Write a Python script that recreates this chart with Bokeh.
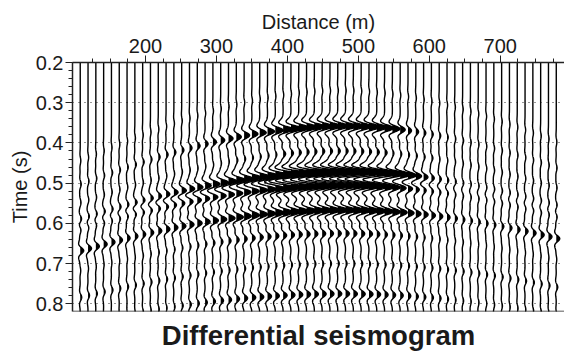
import numpy as np
from bokeh.plotting import figure
from bokeh.models import Range1d, FixedTicker, PrintfTickFormatter, Span, Title
from bokeh.embed import file_html
from bokeh.resources import INLINE

# ---------------- data ----------------
offsets = list(range(108, 790, 11))          # trace positions (m), 62 traces
x_major = [200, 300, 400, 500, 600, 700]
x_minor = list(range(125, 790, 25))
y_major = [0.2, 0.3, 0.4, 0.5, 0.6, 0.7, 0.8]
y_minor = [round(0.2 + 0.02 * k, 2) for k in range(31)]

apex_offset = 475.0      # m, centre of the anomaly
moveout_v = 1040.0       # m/s, hyperbolic moveout
event_t0 = [0.358, 0.472, 0.505, 0.567, 0.625, 0.775, 0.27, 0.42, 0.70]

amp_e1 = [0.10, 0.10, 0.10, 0.10, 0.12, 0.12, 0.12, 0.15, 0.15, 0.15,
          0.18, 0.20, 0.20, 0.22, 0.25, 0.28, 0.30, 0.35, 0.40, 0.45,
          0.50, 0.55, 0.60, 0.65, 0.70, 0.80, 1.00, 1.10, 1.10, 1.10,
          1.10, 1.10, 1.10, 1.10, 1.10, 1.10, 1.10, 1.10, 1.00, 0.90,
          0.75, 0.50, 0.35, 0.28, 0.22, 0.18, 0.15, 0.12, 0.10, 0.10,
          0.08, 0.08, 0.08, 0.08, 0.08, 0.08, 0.08, 0.08, 0.08, 0.08,
          0.08, 0.08]
amp_e2 = [0.15, 0.15, 0.15, 0.18, 0.18, 0.20, 0.20, 0.25, 0.25, 0.30,
          0.35, 0.40, 0.45, 0.50, 0.55, 0.60, 0.65, 0.75, 0.85, 0.90,
          0.95, 1.00, 1.05, 1.10, 1.20, 1.40, 1.80, 2.00, 2.10, 2.10,
          2.10, 2.10, 2.10, 2.10, 2.10, 2.10, 2.10, 2.00, 1.90, 1.70,
          1.40, 1.10, 0.85, 0.60, 0.45, 0.30, 0.22, 0.18, 0.15, 0.12,
          0.10, 0.10, 0.10, 0.10, 0.10, 0.10, 0.10, 0.10, 0.10, 0.10,
          0.10, 0.10]
amp_e3 = [0.10, 0.10, 0.10, 0.12, 0.12, 0.15, 0.15, 0.18, 0.20, 0.22,
          0.25, 0.28, 0.30, 0.35, 0.40, 0.45, 0.50, 0.55, 0.60, 0.65,
          0.70, 0.75, 0.80, 0.85, 0.95, 1.10, 1.50, 1.60, 1.60, 1.60,
          1.60, 1.60, 1.60, 1.60, 1.60, 1.60, 1.60, 1.50, 1.30, 1.10,
          0.85, 0.65, 0.50, 0.38, 0.28, 0.22, 0.18, 0.15, 0.12, 0.10,
          0.10, 0.10, 0.10, 0.10, 0.10, 0.10, 0.10, 0.10, 0.10, 0.10,
          0.10, 0.10]
amp_e4 = [0.35, 0.35, 0.35, 0.35, 0.35, 0.32, 0.30, 0.30, 0.30, 0.32,
          0.35, 0.38, 0.40, 0.42, 0.45, 0.48, 0.50, 0.55, 0.60, 0.65,
          0.70, 0.72, 0.75, 0.78, 0.82, 0.90, 1.00, 1.05, 1.05, 1.05,
          1.05, 1.05, 1.05, 1.05, 1.05, 1.05, 1.05, 1.00, 0.95, 0.90,
          0.80, 0.70, 0.60, 0.52, 0.45, 0.40, 0.35, 0.30, 0.25, 0.22,
          0.20, 0.20, 0.20, 0.20, 0.22, 0.25, 0.28, 0.30, 0.32, 0.35,
          0.35, 0.35]
amp_e5 = [0.05, 0.05, 0.05, 0.05, 0.05, 0.05, 0.05, 0.05, 0.08, 0.08,
          0.10, 0.10, 0.12, 0.12, 0.15, 0.15, 0.18, 0.20, 0.22, 0.25,
          0.28, 0.30, 0.32, 0.35, 0.35, 0.35, 0.35, 0.35, 0.35, 0.35,
          0.35, 0.35, 0.35, 0.35, 0.35, 0.35, 0.35, 0.35, 0.30, 0.28,
          0.25, 0.22, 0.20, 0.18, 0.15, 0.12, 0.10, 0.10, 0.08, 0.08,
          0.05, 0.05, 0.05, 0.05, 0.05, 0.05, 0.05, 0.05, 0.05, 0.05,
          0.05, 0.05]
amp_e6 = [0.05, 0.05, 0.05, 0.05, 0.05, 0.05, 0.05, 0.05, 0.08, 0.08,
          0.10, 0.10, 0.12, 0.15, 0.18, 0.20, 0.22, 0.25, 0.28, 0.30,
          0.32, 0.35, 0.38, 0.40, 0.40, 0.40, 0.40, 0.40, 0.40, 0.40,
          0.40, 0.40, 0.40, 0.40, 0.40, 0.40, 0.40, 0.40, 0.38, 0.35,
          0.32, 0.30, 0.28, 0.25, 0.22, 0.20, 0.18, 0.15, 0.12, 0.10,
          0.08, 0.08, 0.08, 0.08, 0.08, 0.08, 0.08, 0.08, 0.08, 0.08,
          0.08, 0.08]
amp_w1 = [0.06] * 62          # weak early wiggle (~0.27 s)
amp_w2 = [0.08] * 20 + [0.15] * 6 + [0.25] * 14 + [0.15] * 6 + [0.08] * 16   # ~0.42 s
amp_w3 = [0.15] * 62          # weak late wiggle (~0.70 s)
event_amps = [amp_e1, amp_e2, amp_e3, amp_e4, amp_e5, amp_e6, amp_w1, amp_w2, amp_w3]

peak_freq = 22.0
sample_dt = 0.001
trace_gain = 14.0       # metres of deflection per unit amplitude

# ---------------- synthesis ----------------
t = np.arange(0.2, 0.8201, sample_dt)

def ricker(tau, f):
    a = (np.pi * f * tau) ** 2
    return (1 - 2 * a) * np.exp(-a)

p = figure(width=564, height=356,
           x_range=Range1d(97.1, 790.6), y_range=Range1d(0.819, 0.2),
           x_axis_location="above", toolbar_location=None, output_backend="svg",
           min_border_left=72, min_border_right=0, min_border_top=62, min_border_bottom=44,
           background_fill_color="white", border_fill_color="white")
p.outline_line_color = None
p.xgrid.visible = False

xs_lines, ys_lines = [], []
for i, x0 in enumerate(offsets):
    trace = np.zeros_like(t)
    for t0, amps in zip(event_t0, event_amps):
        ti = np.sqrt(t0 ** 2 + ((x0 - apex_offset) / moveout_v) ** 2)
        trace += amps[i] * ricker(t - ti, peak_freq)
    defl = trace * trace_gain
    pos = np.clip(defl, 0, None)
    p.harea(x1=np.full_like(t, x0), x2=x0 + pos, y=t, fill_color="black", fill_alpha=1.0)
    xs_lines.append(list(x0 + defl))
    ys_lines.append(list(t))
p.multi_line(xs=xs_lines, ys=ys_lines, line_color="black", line_width=1.4)

# ---------------- axes ----------------
font = "Liberation Sans"
xa = p.xaxis[0]
xa.ticker = FixedTicker(ticks=x_major, minor_ticks=x_minor)
xa.axis_label = "Distance (m)"
ya = p.yaxis[0]
ya.ticker = FixedTicker(ticks=y_major, minor_ticks=y_minor)
ya.formatter = PrintfTickFormatter(format="%.1f")
ya.axis_label = "Time (s)"
for ax in (xa, ya):
    ax.axis_line_color = "#222222"
    ax.axis_line_width = 1.5
    ax.major_tick_line_color = "#222222"
    ax.minor_tick_line_color = "#222222"
    ax.major_tick_out = 7
    ax.major_tick_in = 0
    ax.minor_tick_out = 4
    ax.minor_tick_in = 0
    ax.major_label_text_font = font
    ax.major_label_text_font_size = "20px"
    ax.major_label_text_color = "#1a1a1a"
    ax.axis_label_text_font = font
    ax.axis_label_text_font_size = "20px"
    ax.axis_label_text_font_style = "normal"
    ax.axis_label_text_color = "#1a1a1a"
xa.major_label_standoff = 3
xa.axis_label_standoff = 3
ya.major_label_standoff = 2
ya.axis_label_standoff = 2

p.ygrid.ticker = FixedTicker(ticks=y_major)
p.ygrid.grid_line_color = "#333333"
p.ygrid.grid_line_dash = "1 5"
p.ygrid.grid_line_width = 1

p.add_layout(Span(location=0.8188, dimension="width", line_color="#222222", line_width=1.5))
p.add_layout(Title(text="Differential seismogram", align="center", text_font=font,
                   text_font_size="27.5px", text_font_style="bold", text_color="#1a1a1a",
                   offset=4, standoff=12), "below")

open("out.html", "w").write(file_html(p, INLINE))
